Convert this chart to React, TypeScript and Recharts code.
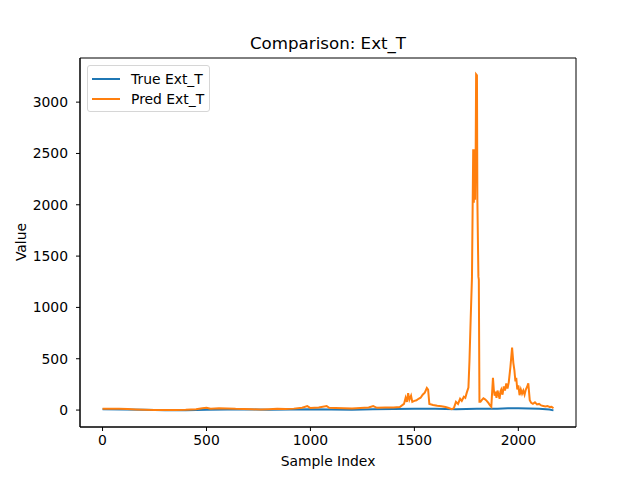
import { LineChart, Line, XAxis, YAxis, Legend, ReferenceArea } from 'recharts'

const trueIdx = [0, 100, 200, 300, 400, 500, 600, 700, 800, 900, 1000, 1100, 1200, 1300, 1400, 1500, 1600, 1700, 1800, 1900, 1950, 2000, 2100, 2150, 2169]
const trueVals = [8, 6, 2, -3, -2, 3, 5, 6, 2, 5, 8, 6, 4, 8, 10, 14, 12, 8, 12, 14, 18, 17, 12, 6, -3]

const predIdx = [
  0, 40, 80, 120, 160, 200, 250, 300, 350, 400, 450, 480, 500, 520, 560, 600, 640, 680, 720, 760,
  800, 840, 880, 920, 960, 985, 1000, 1040, 1078, 1090, 1120, 1160, 1200, 1240, 1280, 1302, 1320, 1360, 1400, 1430,
  1450, 1458, 1464, 1470, 1476, 1484, 1490, 1500, 1510, 1520, 1530, 1540, 1550, 1560, 1566, 1572, 1590, 1610, 1630, 1650,
  1665, 1680, 1690, 1700, 1710, 1720, 1728, 1738, 1745, 1752, 1760, 1765, 1771, 1777, 1783, 1786, 1789, 1792, 1795, 1797,
  1801, 1803, 1808, 1810, 1813, 1818, 1825, 1832, 1840, 1848, 1856, 1864, 1870, 1878, 1882, 1886, 1890, 1895, 1900, 1905,
  1910, 1914, 1918, 1924, 1930, 1936, 1942, 1948, 1954, 1962, 1970, 1976, 1981, 1986, 1990, 1995, 2000, 2006, 2012, 2018,
  2024, 2030, 2036, 2042, 2048, 2055, 2062, 2070, 2080, 2090, 2100, 2110, 2120, 2130, 2140, 2150, 2160, 2169,
]
const predVals = [
  12, 13, 12, 10, 6, 3, 1, 0, 1, 3, 8, 18, 22, 14, 18, 16, 12, 10, 8, 5,
  8, 12, 10, 14, 22, 38, 20, 25, 40, 22, 20, 18, 15, 20, 25, 38, 22, 25, 26, 30,
  60, 120, 80, 165, 100, 140, 80, 90, 95, 110, 120, 150, 170, 215, 200, 60, 50, 42, 38, 30,
  20, 8, 20, 80, 60, 110, 90, 130, 120, 170, 220, 480, 900, 1290, 2540, 2020, 2540, 2050, 2540, 3270,
  3260, 2050, 1300, 1270, 80, 80, 100, 115, 105, 90, 70, 45, 32, 315, 200, 140, 180, 120, 190, 150,
  110, 180, 200, 150, 230, 190, 260, 210, 270, 420, 608, 460, 390, 280, 315, 200, 240, 145, 200, 160,
  190, 150, 200, 225, 260, 97, 70, 60, 75, 55, 60, 45, 40, 35, 40, 30, 32, 18,
]

const xTicks = [0, 500, 1000, 1500, 2000]
const yTicks = [0, 500, 1000, 1500, 2000, 2500, 3000]

const trueData = trueIdx.map((x, i) => ({ x, y: trueVals[i] }))
const predData = predIdx.map((x, i) => ({ x, y: predVals[i] }))

const FONT = 'DejaVu Sans, sans-serif'
const BLUE = '#1f77b4'
const ORANGE = '#ff7f0e'

function LegendBox() {
  const rows = [
    { name: 'True Ext_T', color: BLUE },
    { name: 'Pred Ext_T', color: ORANGE },
  ]
  return (
    <div
      style={{
        position: 'relative',
        width: 123,
        height: 47,
        boxSizing: 'border-box',
        border: '1px solid #d6d6d6',
        borderRadius: 3,
        background: 'rgba(255,255,255,0.8)',
        fontFamily: FONT,
        fontSize: 13.9,
      }}
    >
      {rows.map((r, i) => (
        <div key={r.name} style={{ position: 'absolute', left: 4, top: 3 + i * 20, height: 20, display: 'flex', alignItems: 'center' }}>
          <div style={{ width: 28, height: 2, background: r.color }} />
          <span style={{ marginLeft: 11, color: '#000', whiteSpace: 'nowrap' }}>{r.name}</span>
        </div>
      ))}
    </div>
  )
}

export default function App() {
  return (
    <div style={{ position: 'absolute', left: 0, top: 0, width: 640, height: 480, background: '#fff' }}>
      <LineChart width={640} height={480} margin={{ top: 58, right: 64, bottom: 3, left: 0 }}>
        <XAxis
          dataKey="x"
          type="number"
          domain={[-108.45, 2277.45]}
          ticks={xTicks}
          allowDataOverflow
          height={50}
          tickSize={4}
          tickMargin={4}
          axisLine={{ stroke: '#000' }}
          tickLine={{ stroke: '#000' }}
          tick={{ fill: '#000', fontSize: 13.9, fontFamily: FONT }}
        />
        <YAxis
          type="number"
          domain={[-165, 3430]}
          ticks={yTicks}
          allowDataOverflow
          width={80}
          tickSize={4}
          tickMargin={8}
          axisLine={{ stroke: '#000' }}
          tickLine={{ stroke: '#000' }}
          tick={{ fill: '#000', fontSize: 13.9, fontFamily: FONT }}
        />
        <ReferenceArea x1={-108.45} x2={2277.45} y1={-165} y2={3430} fill="none" stroke="#000" strokeWidth={1} />
        <Line data={trueData} dataKey="y" name="True Ext_T" stroke={BLUE} strokeWidth={2} dot={false} isAnimationActive={false} type="linear" />
        <Line data={predData} dataKey="y" name="Pred Ext_T" stroke={ORANGE} strokeWidth={2} dot={false} isAnimationActive={false} type="linear" />
        <Legend
          layout="vertical"
          align="center"
          verticalAlign="middle"
          wrapperStyle={{ left: 87, top: 65, width: 'auto', height: 'auto' }}
          content={() => <LegendBox />}
        />
      </LineChart>
      <div style={{ position: 'absolute', left: 328, top: 44, transform: 'translate(-50%, -50%)', fontFamily: FONT, fontSize: 16.67, lineHeight: 1, whiteSpace: 'nowrap', color: '#000' }}>
        Comparison: Ext_T
      </div>
      <div style={{ position: 'absolute', left: 328, top: 462, transform: 'translate(-50%, -50%)', fontFamily: FONT, fontSize: 13.9, lineHeight: 1, whiteSpace: 'nowrap', color: '#000' }}>
        Sample Index
      </div>
      <div style={{ position: 'absolute', left: 22, top: 242, transform: 'translate(-50%, -50%) rotate(-90deg)', fontFamily: FONT, fontSize: 13.9, lineHeight: 1, whiteSpace: 'nowrap', color: '#000' }}>
        Value
      </div>
    </div>
  )
}
